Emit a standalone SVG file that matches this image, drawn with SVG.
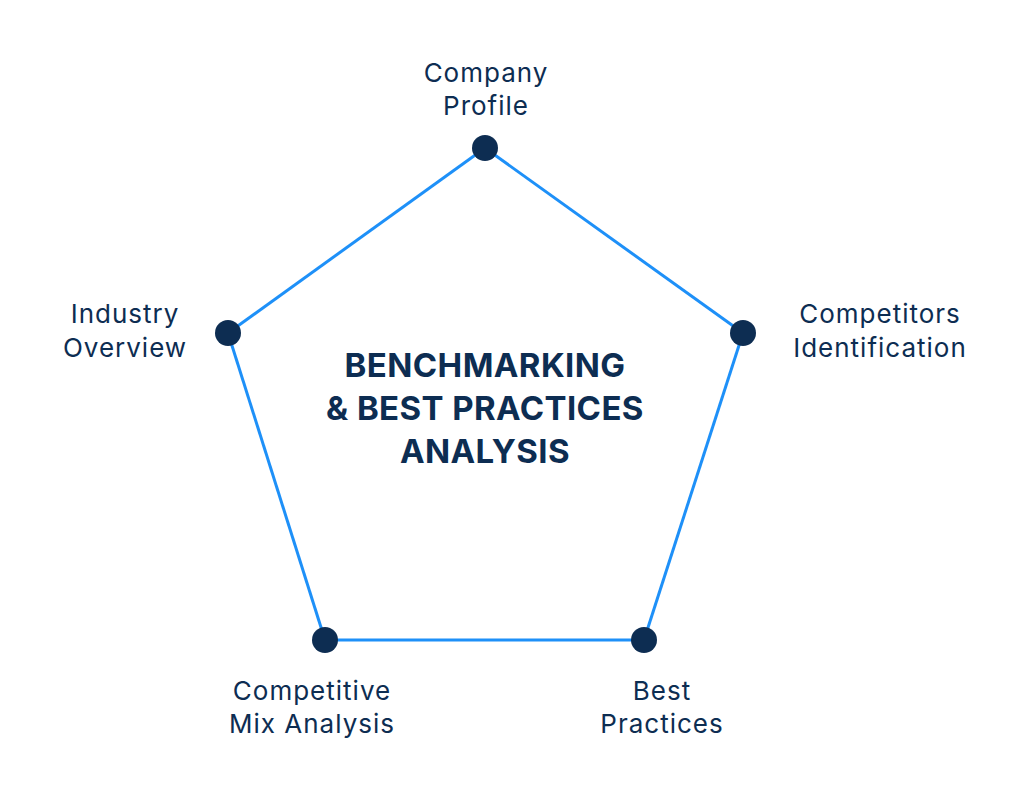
<svg xmlns="http://www.w3.org/2000/svg" width="1024" height="799" viewBox="0 0 1024 799">
<style>
.lbl{font-family:Inter,"Open Sans","Liberation Sans",sans-serif;font-size:26px;letter-spacing:1px;fill:#0d2d52;text-anchor:middle}
.ttl{font-family:Inter,"Open Sans","Liberation Sans",sans-serif;font-size:33px;letter-spacing:0.4px;font-weight:700;fill:#0d2d52;text-anchor:middle}
.edge{stroke:#1e90f8;stroke-width:3;fill:none}
.dot{fill:#0d2d52}
</style>
<rect width="1024" height="799" fill="#ffffff"/>
<g id="connectors">
<line class="edge" x1="485" y1="148" x2="743" y2="333"/>
<line class="edge" x1="743" y1="333" x2="644" y2="640"/>
<line class="edge" x1="644" y1="640" x2="325" y2="640"/>
<line class="edge" x1="325" y1="640" x2="228" y2="333"/>
<line class="edge" x1="228" y1="333" x2="485" y2="148"/>
</g>
<g id="center">
<text class="ttl" x="485" y="377">BENCHMARKING</text>
<text class="ttl" x="485" y="420">&amp; BEST PRACTICES</text>
<text class="ttl" x="485" y="463">ANALYSIS</text>
</g>
<g id="company-profile">
<circle class="dot" cx="485" cy="148" r="13"/>
<text class="lbl" x="486" y="82">Company</text>
<text class="lbl" x="486" y="115">Profile</text>
</g>
<g id="competitors-identification">
<circle class="dot" cx="743" cy="333" r="13"/>
<text class="lbl" x="880" y="323">Competitors</text>
<text class="lbl" x="880" y="357">Identification</text>
</g>
<g id="best-practices">
<circle class="dot" cx="644" cy="640" r="13"/>
<text class="lbl" x="662" y="700">Best</text>
<text class="lbl" x="662" y="733">Practices</text>
</g>
<g id="competitive-mix-analysis">
<circle class="dot" cx="325" cy="640" r="13"/>
<text class="lbl" x="312" y="700">Competitive</text>
<text class="lbl" x="312" y="733">Mix Analysis</text>
</g>
<g id="industry-overview">
<circle class="dot" cx="228" cy="333" r="13"/>
<text class="lbl" x="125" y="323">Industry</text>
<text class="lbl" x="125" y="357">Overview</text>
</g>
</svg>
